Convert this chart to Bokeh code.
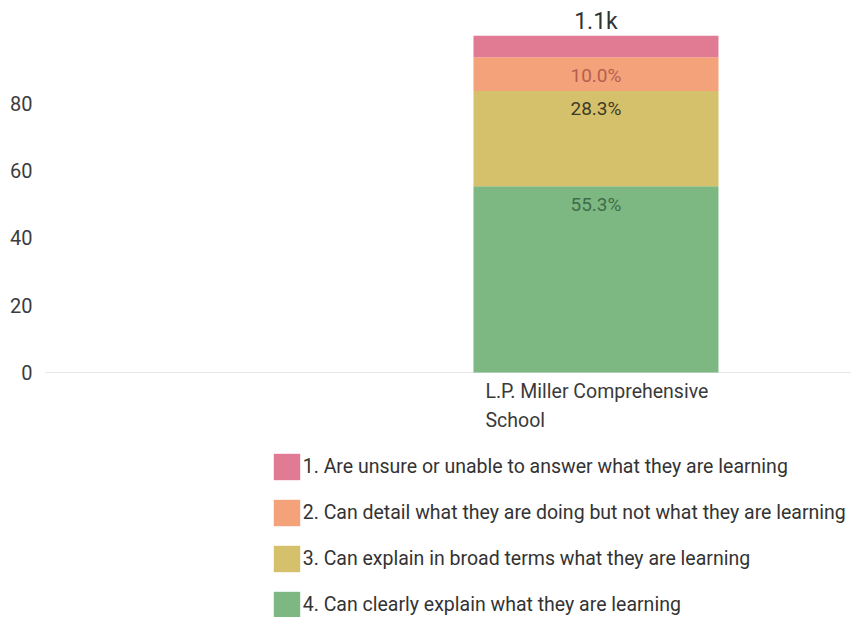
from bokeh.plotting import figure
from bokeh.models import ColumnDataSource, Range1d, FixedTicker, Legend, LegendItem
from bokeh.core.properties import value
from bokeh.embed import file_html
from bokeh.resources import INLINE

# ---- data ----
schools = ["L.P. Miller Comprehensive School"]
school_labels = ["L.P. Miller Comprehensive\nSchool"]
total_labels = ["1.1k"]
levels = [
    "4. Can clearly explain what they are learning",
    "3. Can explain in broad terms what they are learning",
    "2. Can detail what they are doing but not what they are learning",
    "1. Are unsure or unable to answer what they are learning",
]
pct_4 = [55.3]
pct_3 = [28.3]
pct_2 = [10.0]
pct_1 = [6.4]
y_ticks = [0, 20, 40, 60, 80]

colors = ["#7db882", "#d5c16b", "#f3a27a", "#e07b93"]
label_colors = ["#3f6c4b", "#3e3a28", "#b55f50", "#a8505f"]
FONT = "Roboto"

xs = list(range(len(schools)))
series = [pct_4, pct_3, pct_2, pct_1]
keys = ["s4", "s3", "s2", "s1"]
data = {"x": xs}
for k, s in zip(keys, series):
    data[k] = s
source = ColumnDataSource(data)

p = figure(width=851, height=617, output_backend="svg", toolbar_location=None,
           x_range=Range1d(-2.247, 1.043), y_range=Range1d(-72.8, 108.1),
           min_border_left=45, min_border_right=0, min_border_top=8, min_border_bottom=0)
p.outline_line_color = None
p.xaxis.visible = False

renderers = p.vbar_stack(keys, x="x", width=1.0, color=colors, line_color=None, source=source)

# segment labels
lx, ly, lt, lc = [], [], [], []
for i in range(len(xs)):
    cum = 0.0
    for s, c in zip(series, label_colors):
        v = s[i]
        cum += v
        if v >= 8:
            lx.append(xs[i]); ly.append(cum); lt.append(f"{v:.1f}%"); lc.append(c)
p.text(x=lx, y=ly, text=lt, text_color=lc, text_align="center", text_baseline="middle",
       y_offset=18, text_font=value(FONT), text_font_size="19px")

# totals
totals = [sum(s[i] for s in series) for i in range(len(xs))]
p.text(x=xs, y=totals, text=total_labels, text_color="#333333", text_align="center",
       text_baseline="middle", y_offset=-14, text_font=value(FONT), text_font_size="23px")

# category labels
p.text(x=xs, y=[0] * len(xs), text=school_labels, text_color="#3a3a3a", text_align="left",
       text_baseline="middle", x_offset=-110.5, y_offset=33.5, text_line_height=1.29,
       text_font=value(FONT), text_font_size="19.5px")

# axes / grid
p.yaxis.ticker = FixedTicker(ticks=y_ticks)
p.yaxis.axis_line_color = None
p.yaxis.major_tick_line_color = None
p.yaxis.minor_tick_line_color = None
p.yaxis.major_label_standoff = 7
p.yaxis.major_label_text_font = FONT
p.yaxis.major_label_text_font_size = "20px"
p.yaxis.major_label_text_color = "#3c3c3c"
p.xgrid.visible = False
p.ygrid.ticker = FixedTicker(ticks=[0])
p.ygrid.grid_line_color = "#e6e6e6"

items = [LegendItem(label=lab, renderers=[r]) for lab, r in zip(levels, renderers)][::-1]
legend = Legend(items=items, location=(224.7, -3.5), orientation="vertical",
                glyph_width=33, glyph_height=33, label_height=33, spacing=13,
                label_standoff=0, padding=0, margin=0,
                border_line_color=None, background_fill_alpha=0,
                label_text_font=FONT, label_text_font_size="19.5px",
                label_text_color="#333333", label_text_baseline="middle")
p.add_layout(legend, "center")

open("out.html", "w").write(file_html(p, INLINE))
